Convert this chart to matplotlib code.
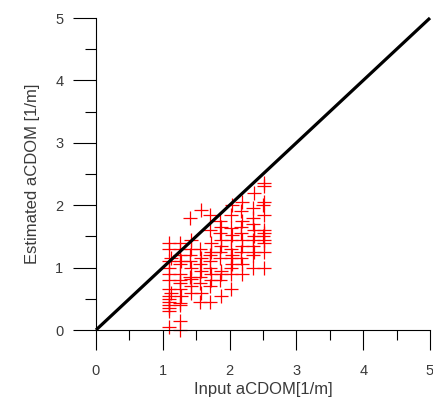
import matplotlib
matplotlib.use('Agg')
import matplotlib.pyplot as plt
from matplotlib.ticker import MultipleLocator

plt.rcParams['font.family'] = ['Liberation Sans', 'DejaVu Sans']

# input vs estimated aCDOM
x_input = [1.10, 1.10, 1.10, 1.10, 1.10, 1.10, 1.10, 1.10, 1.10, 1.12, 1.10, 1.10,
           1.10, 1.10, 1.12, 1.10,
           1.25, 1.25, 1.25, 1.25, 1.25, 1.25, 1.25, 1.25, 1.25, 1.25,
           1.27, 1.25, 1.27, 1.25,
           1.42, 1.42, 1.40, 1.42, 1.40, 1.42, 1.40, 1.42, 1.40, 1.42,
           1.55, 1.57, 1.55, 1.57, 1.55, 1.55, 1.57, 1.55, 1.57,
           1.70, 1.70, 1.72, 1.70, 1.70, 1.72, 1.70, 1.70, 1.72, 1.70, 1.72,
           1.87, 1.85, 1.87, 1.85, 1.87, 1.85, 1.87, 1.85, 1.87, 1.85, 1.87,
           2.02, 2.02, 2.04, 2.02, 2.02, 2.04, 2.02, 2.02, 2.04, 2.02, 2.04, 2.02,
           2.19, 2.19, 2.17, 2.19, 2.17, 2.19, 2.17, 2.19, 2.17, 2.19, 2.17,
           2.35, 2.35, 2.37, 2.35, 2.37, 2.35, 2.35, 2.37, 2.35, 2.37, 2.35,
           2.52, 2.52, 2.52, 2.50, 2.52, 2.52, 2.52, 2.52, 2.52, 2.52, 2.52, 2.50]
y_est = [0.05, 0.30, 0.40, 0.50, 0.55, 0.65, 0.80, 0.90, 1.00, 1.15, 1.30, 1.40,
         0.35, 0.45, 0.60, 1.10,
         0.00, 0.15, 0.40, 0.43, 0.65, 0.75, 0.90, 1.05, 1.20, 1.40,
         0.55, 0.80, 1.10, 1.30,
         0.60, 0.82, 0.85, 1.00, 1.20, 1.45, 1.80, 0.70, 1.10, 1.30,
         0.45, 0.60, 0.75, 0.95, 1.05, 1.30, 1.93, 0.85, 1.15,
         0.45, 0.70, 0.90, 1.00, 1.20, 1.40, 1.60, 1.85, 0.80, 1.10, 1.25,
         0.55, 0.80, 0.95, 1.15, 1.35, 1.55, 1.65, 1.75, 0.90, 1.25, 1.45,
         0.65, 0.90, 1.05, 1.15, 1.30, 1.52, 1.63, 1.85, 2.00, 1.00, 1.20, 1.45,
         0.90, 1.05, 1.15, 1.35, 1.55, 1.75, 1.90, 2.05, 1.25, 1.45, 1.65,
         1.00, 1.20, 1.25, 1.45, 1.60, 1.80, 1.95, 2.20, 1.35, 1.50, 1.70,
         1.00, 1.25, 1.40, 1.50, 1.55, 1.85, 2.05, 2.30, 2.35, 1.45, 1.60, 2.00]

one_to_one = [0, 5]

fig = plt.figure(figsize=(4.33, 3.99), dpi=100)
ax = fig.add_axes([96 / 433, 69 / 399, 334 / 433, 312 / 399])

ax.plot(x_input, y_est, '+', color='red', markersize=10.5, markeredgewidth=0.9,
        clip_on=False)
ax.plot(one_to_one, one_to_one, color='black', linewidth=2.3,
        solid_capstyle='butt', clip_on=False)

ax.set_xlim(0, 5)
ax.set_ylim(0, 5)
ax.spines['top'].set_visible(False)
ax.spines['right'].set_visible(False)
for s in ['left', 'bottom']:
    ax.spines[s].set_linewidth(0.8)

ax.xaxis.set_major_locator(MultipleLocator(1))
ax.yaxis.set_major_locator(MultipleLocator(1))
ax.xaxis.set_minor_locator(MultipleLocator(0.5))
ax.yaxis.set_minor_locator(MultipleLocator(0.5))
ax.tick_params(axis='x', which='major', direction='out', length=14.5, width=0.8,
               pad=10, labelsize=10.5, labelcolor='#3a3a3a')
ax.tick_params(axis='x', which='minor', direction='out', length=7, width=0.8)
ax.tick_params(axis='y', which='major', direction='out', length=16.5, width=0.8,
               pad=7, labelsize=10.5, labelcolor='#3a3a3a')
ax.tick_params(axis='y', which='minor', direction='out', length=8, width=0.8)

ax.set_xlabel('Input aCDOM[1/m]', fontsize=12, color='#3a3a3a', labelpad=3)
ax.set_ylabel('Estimated aCDOM [1/m]', fontsize=12, color='#3a3a3a', labelpad=11)

fig.savefig('out.png', dpi=100)
